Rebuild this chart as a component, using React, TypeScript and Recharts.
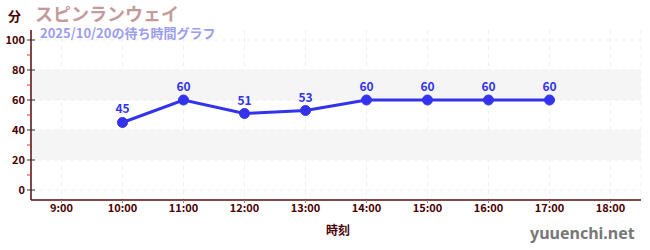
import { LineChart, Line, XAxis, YAxis, CartesianGrid, ReferenceArea, ReferenceLine, LabelList } from "recharts";

const hours = [10, 11, 12, 13, 14, 15, 16, 17];
const waits = [45, 60, 51, 53, 60, 60, 60, 60];
const xTicks = [9, 10, 11, 12, 13, 14, 15, 16, 17, 18];
const yTicks = [0, 10, 20, 30, 40, 50, 60, 70, 80, 90, 100];
const gridYs = [0, 20, 40, 60, 80, 100];
const bands = [[20, 40], [60, 80]];

const data = hours.map((h, i) => ({ hour: h, wait: waits[i] }));

const FONT = "'Noto Sans CJK JP', 'Noto Sans', sans-serif";
const AXIS = "#5a0a0a";
const GRID = "#efefef";

function YTick({ x, y, payload }: { x?: number; y?: number; payload?: { value: number } }) {
  const v = payload?.value ?? 0;
  const major = v % 20 === 0;
  if (!major) {
    return <line x1={(x ?? 0) - 4} x2={x} y1={y} y2={y} stroke="#e03030" strokeWidth={1} />;
  }
  return (
    <g>
      <line x1={(x ?? 0) - 4} x2={(x ?? 0) + 4} y1={y} y2={y} stroke="#333" strokeWidth={1} />
      <text x={(x ?? 0) - 6} y={y} dy="0.35em" textAnchor="end" fontSize={11} fontWeight={600} fill="#4a0000" fontFamily={FONT}>
        {v}
      </text>
    </g>
  );
}

export default function App() {
  return (
    <div style={{ position: "absolute", left: 0, top: 0, width: 650, height: 250, background: "#fff", fontFamily: FONT, overflow: "hidden" }}>
      <LineChart width={650} height={250} data={data} margin={{ top: 30, right: 9, left: 0, bottom: 0 }}>
        {bands.map(([a, b]) => (
          <ReferenceArea key={a} y1={a} y2={b} fill="#f5f5f5" fillOpacity={1} stroke="none" ifOverflow="visible" />
        ))}
        <CartesianGrid horizontal={false} stroke={GRID} strokeDasharray="4 4" />
        {gridYs.map((g) => (
          <ReferenceLine key={g} y={g} stroke={GRID} strokeDasharray="4 4" />
        ))}
        <XAxis
          dataKey="hour"
          type="number"
          domain={[8.5, 18.5]}
          ticks={xTicks}
          tickFormatter={(v) => `${v}:00`}
          interval={0}
          height={50}
          axisLine={{ stroke: AXIS, strokeWidth: 1.5 }}
          tickLine={{ stroke: "#888" }}
          tickSize={3}
          tickMargin={1}
          tick={{ fontSize: 11, fontWeight: 700, fill: "#4a0000", fontFamily: FONT }}
        />
        <YAxis
          type="number"
          domain={[-6.67, 106.67]}
          ticks={yTicks}
          interval={0}
          width={31}
          axisLine={{ stroke: AXIS, strokeWidth: 1.5 }}
          tickLine={false}
          tickSize={0}
          tickMargin={0}
          tick={<YTick />}
          allowDataOverflow
        />
        <Line
          dataKey="wait"
          stroke="#3333ee"
          strokeWidth={3}
          dot={{ r: 5, fill: "#3333ee", stroke: "#3333ee", strokeWidth: 1 }}
          isAnimationActive={false}
        >
          <LabelList dataKey="wait" position="top" offset={9} fill="#3333ee" fontSize={12} fontWeight={700} fontFamily={FONT} />
        </Line>
      </LineChart>
      <div style={{ position: "absolute", left: 8, top: 8, fontSize: 13, fontWeight: 700, color: "#4a0000", lineHeight: "16px" }}>分</div>
      <div style={{ position: "absolute", left: 35, top: 3, fontSize: 18, fontWeight: 700, color: "#c49a9a", lineHeight: "20px", whiteSpace: "nowrap" }}>
        スピンランウェイ
      </div>
      <div style={{ position: "absolute", left: 40, top: 25, fontSize: 13, fontWeight: 700, color: "#9c9cf0", lineHeight: "15px", whiteSpace: "nowrap" }}>
        2025/10/20の待ち時間グラフ
      </div>
      <div style={{ position: "absolute", left: 326, top: 222, fontSize: 12, fontWeight: 700, color: "#4a0000", lineHeight: "16px" }}>時刻</div>
      <div style={{ position: "absolute", left: 530, top: 223, fontSize: 16, fontWeight: 700, color: "#777", lineHeight: "20px", whiteSpace: "nowrap", fontFamily: "'Noto Sans', sans-serif" }}>
        yuuenchi.net
      </div>
    </div>
  );
}
